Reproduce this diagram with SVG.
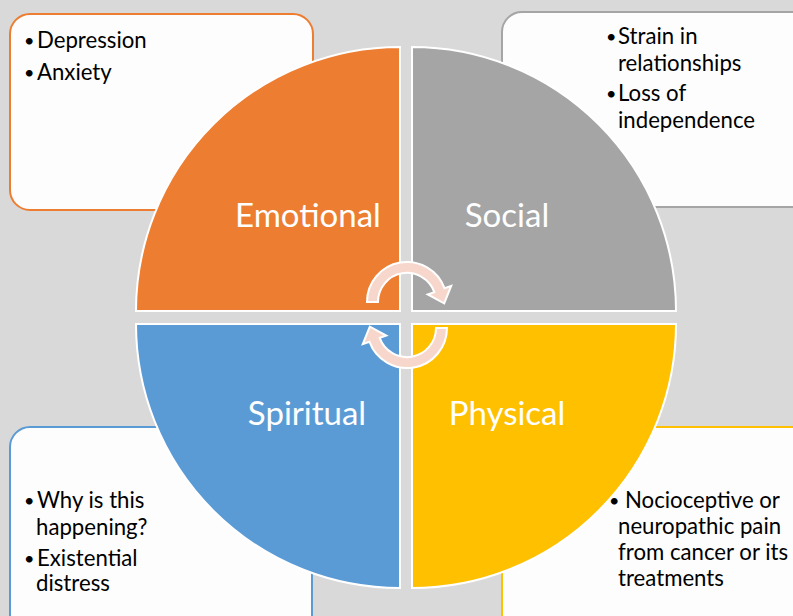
<svg xmlns="http://www.w3.org/2000/svg" width="793" height="616" viewBox="0 0 793 616">
<style>
.box{fill:#FDFDFD;stroke-width:2}
.q{stroke:#FFFFFF;stroke-width:2}
.t{font-family:Lato,"Liberation Sans",sans-serif;font-size:22.2px;fill:#000}
.b{font-size:18px}
.lab{font-family:Lato,"Liberation Sans",sans-serif;font-size:33px;fill:#FFFFFF;text-anchor:middle}
.arr{fill:#F7D7CC;stroke:#FFFFFF;stroke-width:2;stroke-linejoin:miter}
</style>
<rect x="0" y="0" width="793" height="616" fill="#D9D9D9"/>
<g id="box-emotional">
<rect class="box" x="10" y="14" width="303" height="196" rx="20" stroke="#ED7D31"/>
<text class="t"><tspan class="b" x="24" y="47">•</tspan><tspan x="37" y="48">Depression</tspan></text>
<text class="t"><tspan class="b" x="24" y="79">•</tspan><tspan x="37" y="80">Anxiety</tspan></text>
</g>
<g id="box-social">
<rect class="box" x="502" y="12" width="320" height="195" rx="20" stroke="#A5A5A5"/>
<text class="t"><tspan class="b" x="606" y="43">•</tspan><tspan x="618" y="44">Strain in</tspan><tspan x="618" y="71">relationships</tspan></text>
<text class="t"><tspan class="b" x="606" y="100">•</tspan><tspan x="618" y="101">Loss of</tspan><tspan x="618" y="128">independence</tspan></text>
</g>
<g id="box-spiritual">
<rect class="box" x="10" y="427" width="302" height="220" rx="20" stroke="#5B9BD5"/>
<text class="t"><tspan class="b" x="24" y="507">•</tspan><tspan x="37" y="508">Why is this</tspan><tspan x="36" y="535">happening?</tspan></text>
<text class="t"><tspan class="b" x="24" y="565">•</tspan><tspan x="37" y="566">Existential</tspan><tspan x="36" y="591">distress</tspan></text>
</g>
<g id="box-physical">
<rect class="box" x="502" y="427" width="320" height="220" rx="20" stroke="#FFC000"/>
<text class="t"><tspan class="b" x="609" y="507">•</tspan><tspan x="625" y="508">Nocioceptive or</tspan><tspan x="618" y="534">neuropathic pain</tspan><tspan x="618" y="560">from cancer or its</tspan><tspan x="618" y="586">treatments</tspan></text>
</g>
<g id="emotional">
<path class="q" fill="#ED7D31" d="M400 311 L136 311 A264 264 0 0 1 400 47 Z"/>
<text class="lab" x="308" y="227">Emotional</text>
</g>
<g id="social">
<path class="q" fill="#A5A5A5" d="M412 311 L412 47 A264 264 0 0 1 676 311 Z"/>
<text class="lab" x="507" y="227">Social</text>
</g>
<g id="spiritual">
<path class="q" fill="#5B9BD5" d="M400 324 L400 588 A264 264 0 0 1 136 324 Z"/>
<text class="lab" x="307" y="425">Spiritual</text>
</g>
<g id="physical">
<path class="q" fill="#FFC000" d="M412 324 L676 324 A264 264 0 0 1 412 588 Z"/>
<text class="lab" x="507" y="425">Physical</text>
</g>
<g id="connectors">
<path id="arrow-top" class="arr" d="M367 302 A40 40 0 0 1 444.6 288.3 L451.2 285.9 L444.2 303.4 L427.7 294.5 L434.3 292.1 A29 29 0 0 0 378 302 Z"/>
<path id="arrow-bottom" class="arr" transform="rotate(180 407 315)" d="M367 302 A40 40 0 0 1 444.6 288.3 L451.2 285.9 L444.2 303.4 L427.7 294.5 L434.3 292.1 A29 29 0 0 0 378 302 Z"/>
</g>
</svg>
